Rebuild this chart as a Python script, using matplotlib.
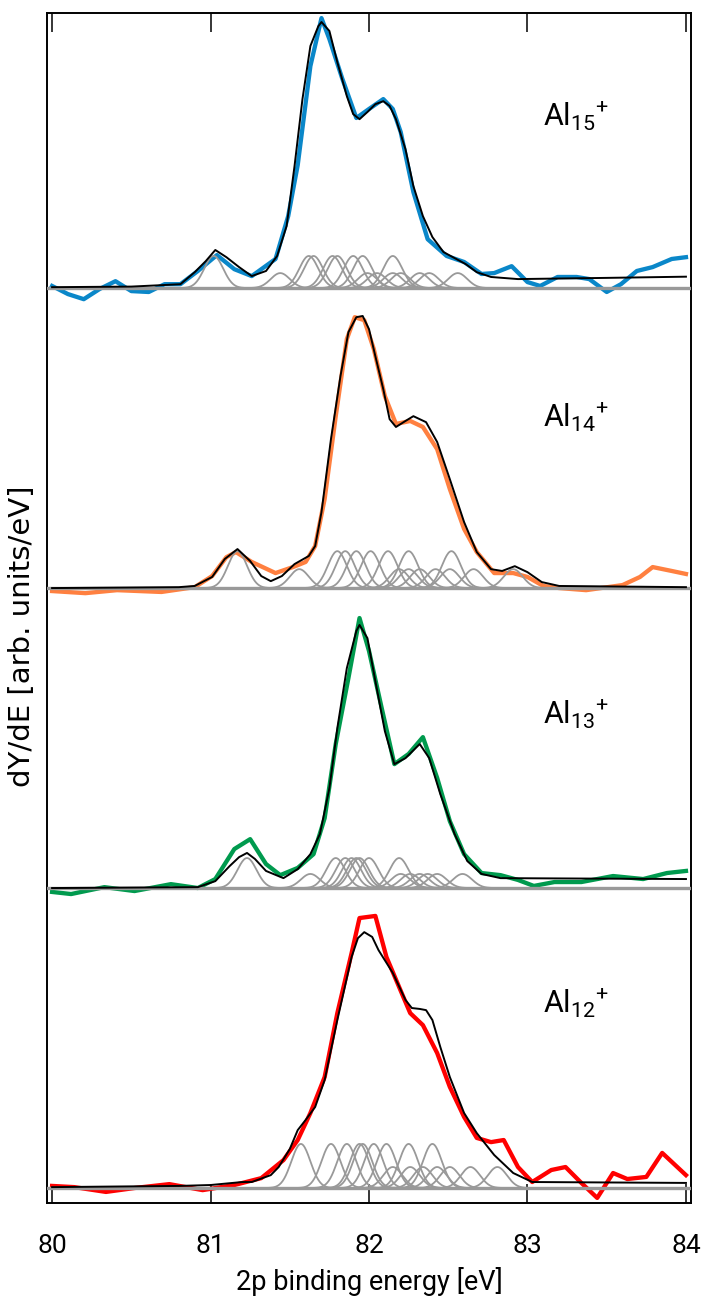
import numpy as np
import matplotlib
matplotlib.use("Agg")
import matplotlib.pyplot as plt

plt.rcParams['font.family'] = ['Roboto', 'DejaVu Sans']
plt.rcParams['mathtext.fontset'] = 'custom'
plt.rcParams['mathtext.rm'] = 'Roboto'
plt.rcParams['mathtext.it'] = 'Roboto'

# --- Al15+ (blue) ---
x15 = [80.0, 80.10, 80.20, 80.30, 80.40, 80.50, 80.61, 80.71, 80.81, 80.92, 81.04, 81.15,
       81.26, 81.41, 81.49, 81.55, 81.63, 81.70, 81.75, 81.83, 81.92, 82.00, 82.09, 82.15,
       82.20, 82.28, 82.37, 82.49, 82.60, 82.71, 82.79, 82.90, 83.00, 83.08, 83.19, 83.31,
       83.39, 83.50, 83.59, 83.69, 83.79, 83.91, 84.0]
y15 = [0.007, -0.02, -0.037, -0.003, 0.023, -0.01, -0.013, 0.013, 0.013, 0.057, 0.11, 0.063,
       0.04, 0.097, 0.24, 0.41, 0.74, 0.90, 0.83, 0.70, 0.567, 0.597, 0.63, 0.597,
       0.52, 0.32, 0.163, 0.107, 0.087, 0.047, 0.05, 0.073, 0.02, 0.007, 0.037, 0.037,
       0.03, -0.013, 0.013, 0.057, 0.07, 0.097, 0.103]
fx15 = [80.0, 80.5, 80.7, 80.81, 80.90, 80.97, 81.03, 81.10, 81.18, 81.26, 81.35, 81.42,
        81.48, 81.53, 81.58, 81.63, 81.68, 81.70, 81.75, 81.80, 81.86, 81.90, 81.94, 81.99,
        82.04, 82.09, 82.13, 82.17, 82.23, 82.28, 82.34, 82.40, 82.47, 82.54, 82.61, 82.68,
        82.77, 82.94, 83.5, 84.0]
fy15 = [0.003, 0.005, 0.01, 0.013, 0.053, 0.09, 0.127, 0.103, 0.07, 0.04, 0.057, 0.107,
        0.207, 0.407, 0.63, 0.807, 0.873, 0.887, 0.857, 0.753, 0.64, 0.58, 0.563, 0.587,
        0.613, 0.623, 0.607, 0.563, 0.463, 0.34, 0.24, 0.17, 0.12, 0.10, 0.08, 0.053,
        0.037, 0.03, 0.034, 0.038]
c15_big = [81.02, 81.62, 81.65, 81.77, 81.80, 81.90, 81.96, 82.15]
c15_small = [81.44, 81.99, 82.05, 82.15, 82.20, 82.32, 82.38, 82.56]
a15 = [0.107, 0.05]

# --- Al14+ (orange) ---
x14 = [80.0, 80.21, 80.41, 80.69, 80.90, 81.01, 81.10, 81.16, 81.26, 81.41, 81.52, 81.60,
       81.66, 81.72, 81.79, 81.86, 81.91, 81.97, 82.03, 82.10, 82.17, 82.26, 82.34, 82.43,
       82.51, 82.60, 82.68, 82.79, 82.91, 83.00, 83.10, 83.20, 83.37, 83.60, 83.71, 83.79,
       83.91, 84.0]
y14 = [-0.01, -0.017, -0.007, -0.013, 0.003, 0.04, 0.103, 0.12, 0.087, 0.05, 0.07, 0.087,
       0.14, 0.297, 0.573, 0.83, 0.903, 0.893, 0.797, 0.64, 0.547, 0.557, 0.537, 0.463,
       0.33, 0.197, 0.12, 0.05, 0.05, 0.037, 0.007, 0.0, -0.007, 0.01, 0.037, 0.07,
       0.057, 0.047]
fx14 = [80.0, 80.8, 80.90, 81.01, 81.09, 81.17, 81.25, 81.32, 81.38, 81.45, 81.53, 81.62,
        81.66, 81.70, 81.76, 81.82, 81.87, 81.92, 81.96, 82.00, 82.04, 82.09, 82.13, 82.17,
        82.23, 82.28, 82.36, 82.43, 82.51, 82.60, 82.68, 82.77, 82.84, 82.92, 83.00, 83.09,
        83.20, 84.0]
fy14 = [0.0, 0.003, 0.007, 0.037, 0.097, 0.13, 0.09, 0.04, 0.023, 0.04, 0.08, 0.107,
        0.14, 0.253, 0.497, 0.707, 0.853, 0.903, 0.907, 0.863, 0.773, 0.663, 0.563, 0.537,
        0.557, 0.573, 0.553, 0.487, 0.363, 0.22, 0.12, 0.063, 0.057, 0.073, 0.053, 0.02,
        0.007, 0.003]
c14_big = [81.17, 81.80, 81.85, 81.92, 82.01, 82.12, 82.25, 82.52]
c14_small = [81.56, 82.19, 82.25, 82.32, 82.42, 82.51, 82.66, 82.91]
a14 = [0.123, 0.063]

# --- Al13+ (green) ---
x13 = [80.0, 80.12, 80.33, 80.52, 80.75, 80.92, 81.03, 81.15, 81.25, 81.35, 81.44, 81.55,
       81.65, 81.72, 81.79, 81.87, 81.94, 82.00, 82.08, 82.16, 82.25, 82.34, 82.43, 82.51,
       82.60, 82.71, 82.83, 82.94, 83.04, 83.17, 83.34, 83.54, 83.73, 83.88, 84.0]
y13 = [-0.013, -0.02, 0.003, -0.01, 0.013, 0.0, 0.03, 0.13, 0.163, 0.08, 0.043, 0.067,
       0.113, 0.233, 0.48, 0.70, 0.90, 0.79, 0.60, 0.413, 0.447, 0.503, 0.367, 0.223,
       0.113, 0.05, 0.043, 0.027, 0.007, 0.02, 0.02, 0.04, 0.03, 0.05, 0.057]
fx13 = [80.0, 80.92, 81.03, 81.12, 81.18, 81.23, 81.28, 81.35, 81.46, 81.55, 81.63, 81.69,
        81.75, 81.80, 81.86, 81.92, 81.94, 81.99, 82.04, 82.10, 82.16, 82.23, 82.32, 82.38,
        82.45, 82.54, 82.62, 82.71, 82.83, 84.0]
fy13 = [0.0, 0.003, 0.023, 0.073, 0.103, 0.117, 0.097, 0.057, 0.033, 0.063, 0.113, 0.18,
        0.333, 0.533, 0.733, 0.857, 0.877, 0.833, 0.69, 0.523, 0.413, 0.433, 0.48, 0.433,
        0.313, 0.18, 0.09, 0.047, 0.033, 0.03]
c13_big = [81.23, 81.79, 81.85, 81.89, 81.92, 81.94, 82.00, 82.19]
c13_small = [81.63, 82.20, 82.26, 82.32, 82.37, 82.43, 82.59]
a13 = [0.10, 0.047]

# --- Al12+ (red) ---
x12 = [80.0, 80.14, 80.34, 80.52, 80.74, 80.95, 81.15, 81.32, 81.46, 81.55, 81.63, 81.72,
       81.80, 81.89, 81.94, 82.04, 82.11, 82.19, 82.26, 82.34, 82.43, 82.51, 82.60, 82.68,
       82.77, 82.85, 82.94, 83.03, 83.15, 83.24, 83.34, 83.44, 83.54, 83.63, 83.75, 83.85,
       84.0]
y12 = [0.007, 0.003, -0.013, 0.0, 0.013, -0.007, 0.01, 0.033, 0.093, 0.16, 0.25, 0.37,
       0.583, 0.783, 0.90, 0.907, 0.77, 0.67, 0.583, 0.543, 0.45, 0.337, 0.237, 0.167,
       0.153, 0.16, 0.07, 0.02, 0.06, 0.07, 0.017, -0.033, 0.05, 0.03, 0.037, 0.117,
       0.043]
fx12 = [80.0, 80.8, 81.0, 81.2, 81.26, 81.38, 81.43, 81.50, 81.55, 81.60, 81.66, 81.72,
        81.80, 81.89, 81.93, 81.97, 82.02, 82.06, 82.15, 82.23, 82.27, 82.32, 82.36, 82.40,
        82.45, 82.51, 82.60, 82.68, 82.79, 82.91, 83.03, 84.0]
fy12 = [0.003, 0.007, 0.01, 0.02, 0.02, 0.043, 0.07, 0.13, 0.193, 0.227, 0.27, 0.36,
        0.56, 0.77, 0.833, 0.853, 0.837, 0.793, 0.717, 0.627, 0.60, 0.597, 0.593, 0.56,
        0.47, 0.37, 0.25, 0.183, 0.11, 0.05, 0.02, 0.017]
c12_big = [81.57, 81.76, 81.86, 81.94, 81.96, 82.03, 82.11, 82.25, 82.40]
c12_small = [82.15, 82.26, 82.34, 82.43, 82.51, 82.64, 82.81]
a12 = [0.147, 0.07]

panels = [
    (x15, y15, fx15, fy15, c15_big, c15_small, a15, '#0a87c9', '15', 3, 0.54),
    (x14, y14, fx14, fy14, c14_big, c14_small, a14, '#ff8040', '14', 2, 0.537),
    (x13, y13, fx13, fy13, c13_big, c13_small, a13, '#009a4e', '13', 1, 0.547),
    (x12, y12, fx12, fy12, c12_big, c12_small, a12, '#ff0000', '12', 0, 0.583),
]
sigma = 0.06
xg = np.linspace(80, 84, 801)

fig = plt.figure(figsize=(7.07, 13.0), dpi=100)
ax = fig.add_axes([0.0665, 0.0746, 0.9109, 0.9154])

for xs, ys, fx, fy, cb, cs, amp, col, n, off, ly in panels:
    ax.plot(xs, np.array(ys) + off, color=col, lw=3.1, zorder=2, solid_joinstyle='round')
    for c in cb:
        ax.plot(xg, off + amp[0] * np.exp(-0.5 * ((xg - c) / sigma) ** 2), color='#999999', lw=1.3, zorder=3)
    for c in cs:
        ax.plot(xg, off + amp[1] * np.exp(-0.5 * ((xg - c) / sigma) ** 2), color='#999999', lw=1.3, zorder=3)
    ax.axhline(off, color='#999999', lw=2.4, zorder=3)
    ax.plot(fx, np.array(fy) + off, color='black', lw=1.4, zorder=4)
    ax.text(83.10, off + ly, 'Al$_{' + n + '}$$^{+}$', fontsize=22, ha='left', va='baseline')

ax.set_xlim(79.968, 84.032)
ax.set_ylim(-0.05, 3.917)
ax.set_yticks([])
ax.set_xticks([80, 81, 82, 83, 84])
ax.tick_params(axis='x', direction='in', length=14, width=1.1, top=True, labelsize=19, pad=22)
for s in ax.spines.values():
    s.set_linewidth(1.4)
ax.set_xlabel('2p binding energy [eV]', fontsize=19.5, labelpad=7)
ax.set_ylabel('dY/dE [arb. units/eV]', fontsize=21, family='DejaVu Sans')
ax.yaxis.set_label_coords(-0.017, 0.476)

fig.savefig('out.png', dpi=100)
